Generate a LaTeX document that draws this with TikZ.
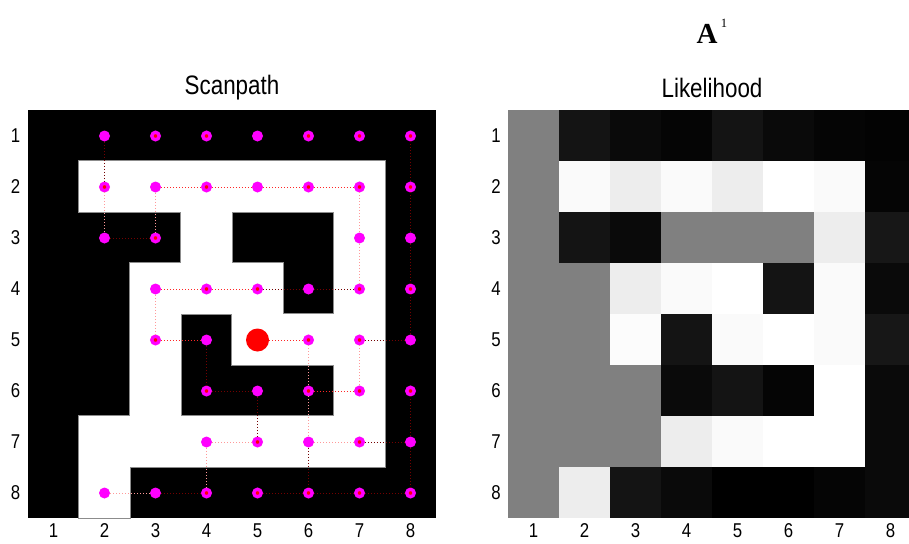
\documentclass[tikz,border=0pt]{standalone}
\usepackage{fontspec}
\setmainfont{Liberation Sans}[FakeStretch=0.84]
\newfontfamily\timesfont{Liberation Serif}
\usepackage{tikz}

\definecolor{fixmag}{RGB}{255,0,255}
\definecolor{fixred}{RGB}{255,0,0}
\def\freecells{2/2,2/3,2/4,2/5,2/6,2/7,3/4,3/7,4/3,4/4,4/5,4/7,5/3,5/5,5/6,5/7,6/3,6/7,7/2,7/3,7/4,7/5,7/6,7/7,8/2}

\begin{document}
\begin{tikzpicture}[
  x=0.75pt, y=-0.75pt,
  font=\fontsize{15}{18}\selectfont,
  heading/.style={font=\fontsize{20}{24}\selectfont},
  axistick/.style={anchor=south, inner sep=0pt},
  wallcell/.style={fill=black},
  freecell/.style={fill=white},
  rimcell/.style={fill=black!45},
  fixdot/.style={circle, fill=fixmag, minimum size=8.25pt, inner sep=0pt},
  hitdot/.style={circle, fill=fixred, draw=fixmag, line width=2.5pt, minimum size=5.6pt, inner sep=0pt},
  firstfix/.style={circle, fill=fixred, minimum size=17.25pt, inner sep=0pt},
  scanlink/.style={line width=0.75pt, dash pattern=on 0.75pt off 1.5pt},
  darklink/.style={scanlink, draw=red!45!black},
  midlink/.style={scanlink, draw=red!85!white},
  lightlink/.style={scanlink, draw=red!40}
]
\useasboundingbox (0,0) rectangle (909,543);

% titles
\node (atitle) at (707,34) {\timesfont\bfseries\fontsize{21.75}{24}\selectfont A};
\node (asup) at (724,23) {\timesfont\fontsize{9.5}{10}\selectfont 1};
\node[heading] (scantitle) at (232,88) {Scanpath};
\node[heading] (liketitle) at (712,88) {Likelihood};

% maze
\fill[wallcell] (28,110) rectangle (436,518);
\begin{scope}
  \clip (28,110) rectangle (436,518);
  \foreach \r/\c in \freecells
    \fill[rimcell] (51*\c-24,51*\r+58) rectangle (51*\c+29,51*\r+111);
  \foreach \r/\c in \freecells
    \fill[freecell] (51*\c-23,51*\r+59) rectangle (51*\c+28,51*\r+110);
\end{scope}

% likelihood map
\foreach \vals [count=\r] in {{50,8,4,2,8,4,2,1},{50,98,93,98,93,100,98,2},{50,8,4,50,50,50,93,9},{50,50,93,98,100,8,98,4},{50,50,99,8,98,100,98,9},{50,50,50,4,8,2,100,4},{50,50,50,93,98,100,100,4},{50,93,8,4,0,0,2,4}}
  \foreach \w [count=\c] in \vals
    \fill[white!\w!black] (51*\c+457,51*\r+59) rectangle (51*\c+508,51*\r+110);

% tick labels
\foreach \i in {1,...,8} {
  \node (lrow\i) at (15.5,51*\i+85) {\i};
  \node[axistick] (lcol\i) at (51*\i+2.5,537.5) {\i};
  \node (rrow\i) at (496,51*\i+85) {\i};
  \node[axistick] (rcol\i) at (51*\i+482.5,537.5) {\i};
}

% fixations
\foreach \r/\c in {1/3,1/4,1/6,1/7,1/8,2/2,2/4,2/6,2/7,2/8,3/3,4/4,4/5,4/7,4/8,5/3,5/6,5/7,6/4,6/6,6/7,6/8,7/5,7/7,8/4,8/5,8/6,8/7,8/8}
  \node[hitdot] (d\r\c) at (51*\c+2.5,51*\r+85) {};
\foreach \r/\c in {1/2,1/5,2/3,2/5,3/2,3/7,3/8,4/3,4/6,5/4,5/8,6/5,7/4,7/6,7/8,8/2,8/3}
  \node[fixdot] (d\r\c) at (51*\c+2.5,51*\r+85) {};
\node[firstfix] (d55) at (257.5,340) {};

% scanpath
\foreach \a/\b in {12/22,32/33,18/28,28/38,38/48,48/58,45/46,46/47,54/64,64/65,65/75,83/84,85/86,86/87,87/88,68/78,78/88,57/58,77/78,76/86}
  \draw[darklink] (d\a) -- (d\b);
\foreach \a/\b in {23/24,24/25,25/26,26/27,43/44,44/45,53/54,55/56,66/67}
  \draw[midlink] (d\a) -- (d\b);
\foreach \a/\b in {22/32,23/33,27/37,37/47,43/53,56/66,66/76,57/67,74/75,74/84,82/83,76/77}
  \draw[lightlink] (d\a) -- (d\b);
\end{tikzpicture}
\end{document}
